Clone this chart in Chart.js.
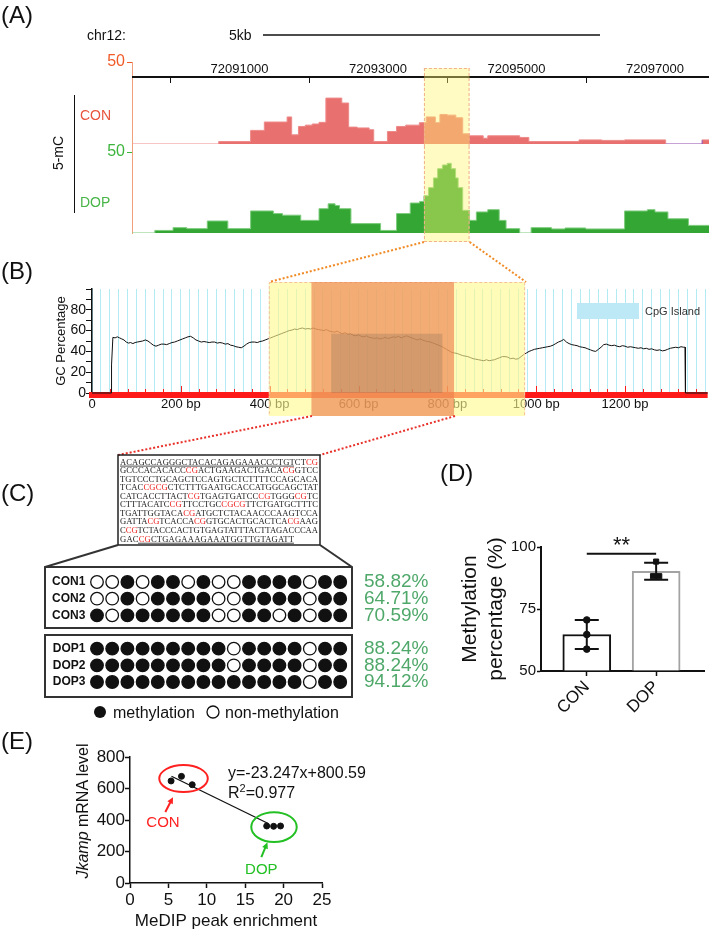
<!DOCTYPE html>
<html>
<head>
<meta charset="utf-8">
<title>Jkamp methylation</title>
<script src="https://cdn.jsdelivr.net/npm/chart.js@4.4.1/dist/chart.umd.min.js"></script>
<style>
  html, body { margin: 0; padding: 0; background: #fff; }
  #fig { position: relative; width: 709px; height: 933px; overflow: hidden; }
  #fig canvas { position: absolute; }
  #overlay { position: absolute; left: 0; top: 0; }
</style>
</head>
<body>
<div id="fig">
  <canvas id="conTrack" width="709" height="156" style="left:0px;top:0px"></canvas>
  <canvas id="dopTrack" width="709" height="106" style="left:0px;top:140px"></canvas>
  <canvas id="gcPlot" width="709" height="136" style="left:0px;top:280px"></canvas>
  <canvas id="bsPlot" width="460" height="144" style="left:0px;top:560px"></canvas>
  <canvas id="barPlot" width="309" height="213" style="left:400px;top:520px"></canvas>
  <canvas id="corrPlot" width="380" height="193" style="left:0px;top:740px"></canvas>
  <svg id="overlay" width="709" height="933" font-family="'Liberation Sans', Arial, sans-serif" fill="#111">
    <text x="1" y="23" font-size="24">(A)</text>
    <text x="1" y="279" font-size="24">(B)</text>
    <text x="1" y="501" font-size="24">(C)</text>
    <text x="440" y="481" font-size="24">(D)</text>
    <text x="1" y="749" font-size="24">(E)</text>

    <text x="87" y="40" font-size="14">chr12:</text>
    <text x="229" y="40" font-size="14">5kb</text>
    <line x1="263" y1="35" x2="600" y2="35" stroke="#111" stroke-width="1.6"/>
    <line x1="74.5" y1="95" x2="74.5" y2="213" stroke="#111" stroke-width="1"/>
    <line x1="132.5" y1="143" x2="132.5" y2="153" stroke="#f2a07c" stroke-width="1"/>
    <text transform="translate(63,153) rotate(-90)" text-anchor="middle" font-size="14">5-mC</text>
    <text x="80" y="120" font-size="14" fill="#e8553d">CON</text>
    <text x="80" y="207" font-size="14" fill="#47b547">DOP</text>

    <g stroke-width="2" stroke-dasharray="2,2" fill="none">
      <path d="M424 242 L269 282 M469.6 242 L526 282" stroke="#f08a24"/>
      <path d="M312 416 L118 455 M455 416 L320 455" stroke="#e8302a"/>
    </g>

    <rect x="577" y="303" width="62" height="16" fill="#bde9f7"/>
    <text x="645" y="315" font-size="11" fill="#333">CpG Island</text>

    <rect x="118" y="455" width="202" height="90" fill="none" stroke="#222" stroke-width="1.5"/>
    <g id="seq" font-family="'Liberation Serif', 'Times New Roman', serif" font-size="8.6"></g>
    <path d="M118 545 L45 567 L45 628 L352 628 L352 567 L320 545 M45 567 L352 567" fill="none" stroke="#333" stroke-width="2"/>
    <rect x="45" y="635" width="307" height="62" fill="none" stroke="#333" stroke-width="2"/>

    <circle cx="100" cy="712" r="6" fill="#111"/>
    <text x="113" y="717.5" font-size="16">methylation</text>
    <circle cx="213" cy="712" r="6" fill="#fff" stroke="#111" stroke-width="1.3"/>
    <text x="225" y="717.5" font-size="16">non-methylation</text>

    <text transform="translate(88,811) rotate(-90)" text-anchor="middle" font-size="16"><tspan font-style="italic">Jkamp</tspan> mRNA level</text>
    <text x="228" y="778" font-size="16">y=-23.247x+800.59</text>
    <text x="228" y="798" font-size="16">R<tspan font-size="11" dy="-6">2</tspan><tspan dy="6">=0.977</tspan></text>
  </svg>
</div>
<script>
// ---------- (A) MeDIP 5-mC tracks, chr12 ----------
const trackRange = [72089447, 72097780];
const conStart = [72089447, 72090699, 72091160, 72091358, 72091687, 72091753, 72091851, 72091950, 72092050, 72092148, 72092247, 72092477, 72092576, 72092700, 72092872, 72092938, 72093136, 72093268, 72093400, 72093597, 72093696, 72093828, 72093894, 72094000, 72094124, 72094223, 72094322, 72094519, 72094585, 72095046, 72095178, 72095903, 72096232, 72096561, 72097154, 72097681];
const conSignal = [0, 1.5, 8.3, 13.4, 16.5, 5.6, 10.7, 11.5, 12.2, 13.2, 28, 25, 10.3, 9.8, 8.7, 1.5, 7.6, 10.7, 11.5, 13, 16.5, 13, 18, 17.6, 16, 6.2, 5, 3.5, 5, 4, 1.5, 2.5, 2.2, 2.5, 0, 2.5];
const dopStart = [72089447, 72089777, 72090040, 72090238, 72090534, 72090831, 72091160, 72091489, 72091620, 72091884, 72092148, 72092280, 72092380, 72092444, 72092609, 72093037, 72093268, 72093465, 72093600, 72093663, 72093730, 72093800, 72093861, 72093930, 72094000, 72094058, 72094120, 72094157, 72094223, 72094322, 72094420, 72094585, 72094750, 72094849, 72095046, 72095211, 72095507, 72095700, 72096000, 72096561, 72096890, 72097000, 72097187, 72097483];
const dopSignal = [0, 1.6, 3.3, 2.7, 7.4, 2.7, 13.6, 12, 11, 7.8, 15, 18, 17, 15, 5.8, 1.6, 12, 18.5, 19.5, 23, 28, 34, 39.7, 42, 43, 39.7, 34, 28, 14, 7.8, 13, 14.4, 7.8, 2.7, 0, 3.3, 2.5, 3.1, 2.5, 13.6, 14.4, 13, 8.8, 4.7];
const rulerTicks = [72090000, 72092000, 72094000, 72096000];
const rulerLabels = [72091000, 72093000, 72095000, 72097000];
const peakRegion = [72093663, 72094322];

// ---------- (B) GC percentage along the amplicon ----------
const gcProfile = [[0,0],[43,0],[44,27],[47,53.5],[52,53],[57,54],[62,53],[67,52],[72,51],[77,49],[82,48],[87,48.5],[92,47.5],[97,48.5],[102,49],[108,49.5],[114,50],[120,51],[126,50],[132,48],[138,46],[144,45],[150,46],[156,47],[162,47],[168,46.5],[174,47.5],[180,48.5],[186,49],[192,50],[198,51],[204,52],[210,53],[216,54],[222,54.5],[228,53],[234,51],[240,50],[246,49],[252,49.5],[258,49],[264,48.5],[270,49],[276,49],[282,48],[288,48.5],[294,48],[300,47],[306,47.5],[312,46],[318,45.5],[324,44.5],[330,44],[336,43.5],[342,45],[348,47],[354,48.5],[360,49],[366,49],[372,48.5],[378,49.5],[384,50],[390,51],[396,52],[402,53],[408,54],[414,55],[420,56],[426,57],[432,58],[438,59],[444,60],[450,60.5],[456,61.5],[462,61],[468,62],[474,62.5],[480,61.5],[486,62],[492,61.5],[498,62.5],[504,61.5],[510,61],[516,60.5],[522,60],[528,61],[534,59.5],[540,59],[546,58.5],[552,59.5],[558,58],[564,57],[570,58],[576,56.5],[582,57],[588,55.5],[594,55],[600,56],[606,54.5],[612,54],[618,55],[624,53.5],[630,53],[636,52.5],[642,53],[648,52],[654,52.5],[660,53.5],[666,52.5],[672,53],[678,54],[684,53.5],[690,54.5],[696,53],[702,54],[708,55],[714,54],[720,53],[726,52],[732,51],[738,52],[744,51],[750,50],[756,49.5],[762,49],[768,48],[774,47],[780,46],[786,45],[792,43.5],[798,42],[804,40.5],[810,39],[816,38.5],[822,38],[828,37],[834,36],[840,35.5],[846,35],[852,34],[858,33],[864,32.5],[870,32],[876,31.5],[882,31],[888,32],[894,31],[900,31.5],[906,32],[912,33],[918,34],[924,35],[930,35],[936,34.5],[942,33],[948,33.5],[954,32.5],[960,33],[966,35],[972,37],[978,38.5],[984,40],[990,41],[996,42],[1002,42.5],[1008,43],[1014,43.5],[1020,44],[1026,44.5],[1032,45],[1038,46],[1044,47.5],[1050,49],[1056,50],[1062,51.5],[1068,49],[1074,47.5],[1080,46.5],[1086,46],[1092,45.5],[1098,44.5],[1104,44],[1110,43.5],[1116,42.5],[1122,41.5],[1128,40.5],[1134,40],[1140,42],[1146,44],[1152,46.5],[1158,47],[1164,46],[1170,45.5],[1176,46],[1182,45],[1188,44.5],[1194,45.5],[1200,45],[1206,44],[1212,44.5],[1218,44],[1224,43.5],[1230,43],[1236,43.5],[1242,42.5],[1248,43],[1254,42],[1260,42.5],[1266,41.5],[1272,41],[1278,41.5],[1284,40.5],[1290,41],[1296,42],[1302,43],[1308,43.5],[1314,44],[1320,43.5],[1326,44.5],[1332,44],[1335,44],[1336,0],[1386,0]];
const gcTicksY = [0, 10, 20, 30, 40, 50, 60, 70, 80, 90, 100];
const zoomRegion = [398, 975];
const bspRegion = [494, 815];
const bspCore = [539, 789];

// ---------- (C) bisulfite sequencing ----------
const seqLines = [
  'ACAGCCAGGGCTACACAGAGAAACCCTGTCTCG',
  'GCCCACACACCCGACTGAAGACTGACACGGTCC',
  'TGTCCCTGCAGCTCCAGTGCTCTTTTCCAGCACA',
  'TCACCGCGCTCTTTGAATGCACCATGGCAGCTAT',
  'CATCACCTTACTCGTGAGTGATCCCGTGGGCGTC',
  'CTTTACATCCGTTCCTGCCGCGTTCTGATGCTTTC',
  'TGATTGGTACACGATGCTCTACAACCCAAGTCCA',
  'GATTACGTCACCACGGTGCACTGCACTCACGAAG',
  'CCGTCTACCCACTGTGAGTATTTACTTAGACCCAA',
  'GACCGCTGAGAAAGAAATGGTTGTAGATT'
];
const rowNames = ['CON1', 'CON2', 'CON3', 'DOP1', 'DOP2', 'DOP3'];
const rowSlots = [0, 1, 2, 4, 5, 6];
const methylation = [
  [0,0,1,0,1,1,0,1,0,0,1,1,1,1,0,1,1],
  [0,0,1,0,1,1,1,1,0,0,1,1,1,1,0,1,1],
  [1,0,1,1,1,1,1,1,0,0,1,1,0,1,0,1,1],
  [1,1,1,1,1,1,1,1,1,0,1,1,1,1,0,1,1],
  [1,1,1,1,1,1,1,1,1,0,1,1,1,1,0,1,1],
  [1,1,1,1,1,1,1,1,1,1,1,1,1,1,0,1,1]
];
const rowPct = ['58.82%', '64.71%', '70.59%', '88.24%', '88.24%', '94.12%'];

// ---------- (D) methylation percentage ----------
const groups = ['CON', 'DOP'];
const methMean = [64.71, 90.20];
const methSd = [5.88, 3.40];
const conMeth = [58.82, 64.71, 70.59];
const dopMeth = [88.24, 88.24, 94.12];
const methTicks = [50, 75, 100];

// ---------- (E) correlation ----------
const conMedip = [5.35, 6.7, 8.1];
const conMrna = [648, 677, 624];
const dopMedip = [17.8, 18.7, 19.6];
const dopMrna = [362, 360, 362];
const fitX = [5.4, 18.0];
const fitY = [678, 378];

// ---------- shared ----------
Chart.defaults.font.family = "'Liberation Sans', Arial, sans-serif";
Chart.defaults.color = '#111';
const base = {
  responsive: false, devicePixelRatio: 1, animation: false, events: [],
  plugins: { legend: { display: false }, tooltip: { enabled: false } }
};
const cv = id => document.getElementById(id);

// (A) track charts
function stepData(starts, vals) {
  const pts = starts.map((x, i) => ({ x, y: vals[i] }));
  pts.push({ x: trackRange[1], y: vals[vals.length - 1] });
  return pts;
}

function highlightPlugin(top, bottom, edge) {
  return {
    id: 'peakHighlight',
    afterDatasetsDraw(chart) {
      const { ctx, scales: { x } } = chart;
      const x0 = x.getPixelForValue(peakRegion[0]), x1 = x.getPixelForValue(peakRegion[1]);
      ctx.save();
      ctx.fillStyle = 'rgba(255,245,110,0.42)';
      ctx.fillRect(x0, top, x1 - x0, bottom - top);
      ctx.strokeStyle = '#f3b08c';
      ctx.lineWidth = 1;
      ctx.setLineDash([3, 2]);
      ctx.beginPath();
      ctx.moveTo(x0 + 0.5, top); ctx.lineTo(x0 + 0.5, bottom);
      ctx.moveTo(x1 - 0.5, top); ctx.lineTo(x1 - 0.5, bottom);
      if (edge === 'top') { ctx.moveTo(x0, top + 0.5); ctx.lineTo(x1, top + 0.5); }
      if (edge === 'bottom') { ctx.moveTo(x0, bottom - 0.5); ctx.lineTo(x1, bottom - 0.5); }
      ctx.stroke();
      ctx.restore();
    }
  };
}

const rulerPlugin = {
  id: 'ruler',
  beforeDatasetsDraw(chart) {
    const { ctx, chartArea, scales: { x } } = chart;
    const y = 77;
    ctx.save();
    ctx.strokeStyle = '#111';
    ctx.lineWidth = 2;
    ctx.beginPath(); ctx.moveTo(chartArea.left, y); ctx.lineTo(chartArea.right, y); ctx.stroke();
    ctx.lineWidth = 1;
    rulerTicks.forEach(v => {
      const px = Math.round(x.getPixelForValue(v)) + 0.5;
      ctx.beginPath(); ctx.moveTo(px, y); ctx.lineTo(px, y + 6); ctx.stroke();
    });
    ctx.fillStyle = '#111';
    ctx.font = "13px 'Liberation Sans', Arial, sans-serif";
    ctx.textAlign = 'center';
    rulerLabels.forEach(v => ctx.fillText(String(v), x.getPixelForValue(v), y - 4));
    ctx.restore();
  }
};

function trackChart(id, starts, vals, o) {
  return new Chart(cv(id), {
    type: 'line',
    data: { datasets: [{
      data: stepData(starts, vals), stepped: true, fill: 'origin',
      backgroundColor: o.fill, borderColor: o.line, borderWidth: 1, pointRadius: 0,
      segment: o.segment || {}
    }] },
    options: {
      ...base,
      layout: { padding: o.padding },
      scales: {
        x: { type: 'linear', display: false, min: trackRange[0], max: trackRange[1] },
        y: {
          min: 0, max: 50,
          afterFit: s => { s.width = 132; },
          afterBuildTicks: s => { s.ticks = [{ value: 50 }]; },
          ticks: { color: o.tick, font: { size: 16 }, padding: 2 },
          grid: { drawOnChartArea: false, color: o.tick, tickLength: 5 },
          border: { color: '#f2a07c', width: 1 }
        }
      }
    },
    plugins: o.plugins
  });
}

trackChart('conTrack', conStart, conSignal, {
  fill: '#e8706e', line: '#ee8a8a', tick: '#f05a28',
  padding: { top: 62, bottom: 12, left: 0, right: 0 },
  segment: { borderColor: c => (c.p0.parsed.y === 0 && c.p0.parsed.x > 72096000) ? '#8e44ad' : undefined },
  plugins: [rulerPlugin, highlightPlugin(68, 146, 'top')]
});
trackChart('dopTrack', dopStart, dopSignal, {
  fill: '#34a634', line: '#7dcc7d', tick: '#3cb43c',
  padding: { top: 12, bottom: 13, left: 0, right: 0 },
  plugins: [highlightPlugin(6, 102, 'bottom')]
});

// (B) GC percentage
const gcBandPlugin = {
  id: 'gcBand',
  beforeDatasetsDraw(chart) {
    const { ctx, chartArea: a, scales: { x, y } } = chart;
    const y0 = y.getPixelForValue(0);
    ctx.save();
    ctx.fillStyle = '#ff1a1a';
    ctx.fillRect(a.left - 3, y0 - 1, a.right - a.left + 3, 6);
    ctx.strokeStyle = '#ff1a1a';
    ctx.lineWidth = 1;
    for (let v = 40; v <= 1380; v += 40) {
      const px = Math.round(x.getPixelForValue(v)) + 0.5;
      ctx.beginPath(); ctx.moveTo(px, y0 - 1); ctx.lineTo(px, y0 - (v % 200 === 0 ? 7 : 4)); ctx.stroke();
    }
    ctx.restore();
  }
};
const gcRegionPlugin = {
  id: 'gcRegion',
  afterDatasetsDraw(chart) {
    const { ctx, scales: { x, y } } = chart;
    const px = v => x.getPixelForValue(v);
    const top = 2, bottom = 136;
    ctx.save();
    ctx.fillStyle = 'rgba(255,248,140,0.62)';
    ctx.fillRect(px(zoomRegion[0]), top, px(zoomRegion[1]) - px(zoomRegion[0]), bottom - top);
    ctx.strokeStyle = '#f6c0a0';
    ctx.setLineDash([3, 2]);
    ctx.lineWidth = 1;
    ctx.strokeRect(px(zoomRegion[0]) + 0.5, top + 0.5, px(zoomRegion[1]) - px(zoomRegion[0]) - 1, bottom - top + 4);
    ctx.setLineDash([]);
    ctx.fillStyle = 'rgba(235,125,75,0.62)';
    ctx.fillRect(px(bspRegion[0]), top, px(bspRegion[1]) - px(bspRegion[0]), bottom - top);
    const yTop = y.getPixelForValue(57), yBase = y.getPixelForValue(0);
    ctx.fillStyle = 'rgba(110,90,80,0.22)';
    ctx.fillRect(px(bspCore[0]), yTop, px(bspCore[1]) - px(bspCore[0]), yBase - yTop);
    ctx.restore();
  }
};

new Chart(cv('gcPlot'), {
  type: 'line',
  data: { datasets: [{
    data: gcProfile.map(([x, y]) => ({ x, y })),
    borderColor: '#111', borderWidth: 1, pointRadius: 0, tension: 0, clip: false
  }] },
  options: {
    ...base,
    layout: { padding: { top: 9, right: 0, left: 0, bottom: 0 } },
    scales: {
      x: {
        type: 'linear', min: 0, max: 1386,
        afterFit: s => { s.height = 23; },
        afterBuildTicks: s => { const t = []; for (let v = 0; v <= 1380; v += 20) t.push({ value: v }); s.ticks = t; },
        ticks: { autoSkip: false, maxRotation: 0, padding: 4, font: { size: 13 }, color: '#111',
                 callback: v => v === 0 ? '0' : (v % 200 === 0 ? v + ' bp' : '') },
        grid: { color: '#b2ebf4', lineWidth: 1, drawTicks: false },
        border: { display: false }
      },
      y: {
        min: 0, max: 100,
        afterFit: s => { s.width = 92; },
        afterBuildTicks: s => { s.ticks = gcTicksY.map(v => ({ value: v })); },
        ticks: { autoSkip: false, padding: 0, font: { size: 14 }, color: '#111',
                 callback: v => (v % 20 === 0 && v < 100) ? String(v) : '' },
        grid: { drawOnChartArea: false, tickLength: 6, color: '#111' },
        border: { color: '#111', width: 1.5 },
        title: { display: true, text: 'GC Percentage', font: { size: 13 }, color: '#111', padding: { top: 54, bottom: 0 } }
      }
    }
  },
  plugins: [gcBandPlugin, gcRegionPlugin]
});

// (C) sequence text
const NS = 'http://www.w3.org/2000/svg';
const seqG = cv('seq');
const seqLeft = 120, seqWidth = 198, seqTop = 464.5, seqLead = 8.57;
seqLines.forEach((line, i) => {
  const t = document.createElementNS(NS, 'text');
  t.setAttribute('x', seqLeft);
  t.setAttribute('y', (seqTop + i * seqLead).toFixed(2));
  t.setAttribute('textLength', i === seqLines.length - 1 ? (line.length * seqWidth / 33).toFixed(1) : seqWidth);
  t.setAttribute('lengthAdjust', 'spacing');
  const red = new Array(line.length).fill(false);
  for (let k = 0; k < line.length - 1; k++) if (line[k] === 'C' && line[k + 1] === 'G') { red[k] = true; red[k + 1] = true; }
  let k = 0;
  while (k < line.length) {
    let j = k;
    while (j < line.length && red[j] === red[k]) j++;
    const s = document.createElementNS(NS, 'tspan');
    s.setAttribute('fill', red[k] ? '#ee2222' : '#222');
    s.textContent = line.slice(k, j);
    t.appendChild(s);
    k = j;
  }
  seqG.appendChild(t);
});
[[0, 0, 29], [9, 3, 29]].forEach(([li, a, b]) => {
  const l = document.createElementNS(NS, 'line');
  const w = seqWidth / 33, yb = seqTop + li * seqLead + 1.6;
  l.setAttribute('x1', seqLeft + a * w); l.setAttribute('x2', seqLeft + b * w);
  l.setAttribute('y1', yb); l.setAttribute('y2', yb);
  l.setAttribute('stroke', '#222'); l.setAttribute('stroke-width', '0.8');
  seqG.appendChild(l);
});

// (C) lollipop grid
const bsPoints = [], bsFill = [];
methylation.forEach((row, r) => row.forEach((m, i) => {
  bsPoints.push({ x: i + 1, y: rowSlots[r] });
  bsFill.push(m ? '#111' : '#fff');
}));
const rowAxis = (side, labels, extra) => ({
  type: 'linear', position: side, reverse: true, min: -0.6, max: 6.6,
  afterBuildTicks: s => { s.ticks = rowSlots.map(v => ({ value: v })); },
  grid: { display: false, drawTicks: false },
  border: { display: false },
  ...extra,
  ticks: { autoSkip: false, callback: v => labels[rowSlots.indexOf(v)], ...extra.ticks }
});
new Chart(cv('bsPlot'), {
  type: 'scatter',
  data: { datasets: [{ data: bsPoints, pointRadius: 6.3, pointBorderWidth: 1.3, pointBorderColor: '#111', pointBackgroundColor: bsFill }] },
  options: {
    ...base,
    layout: { padding: { top: 12, bottom: 12, left: 0, right: 0 } },
    scales: {
      x: { type: 'linear', display: false, min: 0.5, max: 17.5 },
      y: rowAxis('left', rowNames, { afterFit: s => { s.width = 89.4; }, ticks: { font: { size: 12, weight: 'bold' }, color: '#111', padding: 4 } }),
      y2: rowAxis('right', rowPct, {
        afterFit: s => { s.width = 460 - 347.8; },
        grid: { display: false, drawTicks: true, tickLength: 16.2 },
        ticks: { font: { size: 19 }, color: '#4fa86a', padding: 0 }
      })
    }
  }
});

// (D) bar chart with points
const dopJitter = [-0.045, 0.045, 0];
const errorBarPlugin = {
  id: 'errorBars',
  afterDatasetsDraw(chart) {
    const { ctx, scales: { x, y } } = chart;
    ctx.save();
    ctx.strokeStyle = '#111';
    ctx.lineWidth = 2;
    methMean.forEach((m, i) => {
      const cx = x.getPixelForValue(i), lo = y.getPixelForValue(m - methSd[i]), hi = y.getPixelForValue(m + methSd[i]);
      ctx.beginPath();
      ctx.moveTo(cx, lo); ctx.lineTo(cx, hi);
      ctx.moveTo(cx - 12, lo); ctx.lineTo(cx + 12, lo);
      ctx.moveTo(cx - 12, hi); ctx.lineTo(cx + 12, hi);
      ctx.stroke();
    });
    const x0 = x.getPixelForValue(0), x1 = x.getPixelForValue(1), ys = y.getPixelForValue(97.3);
    ctx.beginPath(); ctx.moveTo(x0, ys); ctx.lineTo(x1, ys); ctx.stroke();
    ctx.fillStyle = '#111';
    ctx.font = "22px 'Liberation Sans', Arial, sans-serif";
    ctx.textAlign = 'center';
    ctx.textBaseline = 'middle';
    ctx.fillText('**', (x0 + x1) / 2, y.getPixelForValue(100.6));
    ctx.restore();
  }
};
new Chart(cv('barPlot'), {
  type: 'bar',
  data: { datasets: [
    { type: 'bar', data: groups.map((g, i) => ({ x: i, y: methMean[i] })), base: 50, barThickness: 48,
      backgroundColor: '#fff', borderColor: ['#111', '#a3a3a3'], borderWidth: 2, borderSkipped: 'start', order: 2 },
    { type: 'scatter', data: conMeth.map(v => ({ x: 0, y: v })), pointStyle: 'circle', pointRadius: 3.3,
      backgroundColor: '#111', borderColor: '#111', order: 0 },
    { type: 'scatter', data: dopMeth.map((v, i) => ({ x: 1 + dopJitter[i], y: v })), pointStyle: 'rect', pointRadius: 3.6,
      backgroundColor: '#111', borderColor: '#111', order: 0 }
  ] },
  options: {
    ...base,
    layout: { padding: { top: 27, right: 0, left: 0, bottom: 0 } },
    scales: {
      x: {
        type: 'linear', min: -0.66, max: 1.69, offset: false,
        afterFit: s => { s.height = 62; },
        afterBuildTicks: s => { s.ticks = groups.map((g, i) => ({ value: i })); },
        ticks: { autoSkip: false, minRotation: 45, maxRotation: 45, padding: 1, font: { size: 17 }, color: '#111', callback: v => groups[v] },
        grid: { drawOnChartArea: false, offset: false, tickLength: 5, color: '#111', tickWidth: 1.5 },
        border: { color: '#111', width: 2 }
      },
      y: {
        min: 50, max: 100,
        afterFit: s => { s.width = 141; },
        afterBuildTicks: s => { s.ticks = methTicks.map(v => ({ value: v })); },
        ticks: { padding: 1, font: { size: 15 }, color: '#111' },
        grid: { drawOnChartArea: false, tickLength: 4, color: '#111', tickWidth: 1.5 },
        border: { color: '#111', width: 2 },
        title: { display: true, text: ['Methylation', 'percentage (%)'], font: { size: 21 }, color: '#111', padding: { top: 58, bottom: 0 } }
      }
    }
  },
  plugins: [errorBarPlugin]
});

// (E) correlation
const corrNotes = {
  id: 'corrNotes',
  afterDatasetsDraw(chart) {
    const { ctx, scales: { x, y } } = chart;
    const X = v => x.getPixelForValue(v), Y = v => y.getPixelForValue(v);
    ctx.save();
    const ellipse = (cx, cy, rx, ry, color) => {
      ctx.beginPath();
      ctx.ellipse(X(cx), Y(cy), X(cx + rx) - X(cx), Y(cy) - Y(cy + ry), 0, 0, Math.PI * 2);
      ctx.strokeStyle = color; ctx.lineWidth = 2; ctx.stroke();
    };
    const arrow = (x0, y0, x1, y1, color) => {
      const ax = X(x0), ay = Y(y0), bx = X(x1), by = Y(y1);
      const ang = Math.atan2(by - ay, bx - ax), h = 7;
      ctx.strokeStyle = color; ctx.fillStyle = color; ctx.lineWidth = 2;
      ctx.beginPath(); ctx.moveTo(ax, ay); ctx.lineTo(bx - h * 0.7 * Math.cos(ang), by - h * 0.7 * Math.sin(ang)); ctx.stroke();
      ctx.beginPath();
      ctx.moveTo(bx, by);
      ctx.lineTo(bx - h * Math.cos(ang - 0.45), by - h * Math.sin(ang - 0.45));
      ctx.lineTo(bx - h * Math.cos(ang + 0.45), by - h * Math.sin(ang + 0.45));
      ctx.closePath(); ctx.fill();
    };
    ellipse(6.97, 663, 3.16, 86, '#ff2020');
    ellipse(18.75, 355, 2.96, 95, '#22c022');
    arrow(4.6, 451, 5.6, 545, '#ff2020');
    arrow(17.1, 165, 17.9, 258, '#22c022');
    ctx.font = "15px 'Liberation Sans', Arial, sans-serif";
    ctx.textAlign = 'center';
    ctx.textBaseline = 'middle';
    ctx.fillStyle = '#ff2020'; ctx.fillText('CON', X(4.3), Y(381));
    ctx.fillStyle = '#22c022'; ctx.fillText('DOP', X(17.1), Y(83));
    ctx.restore();
  }
};
new Chart(cv('corrPlot'), {
  type: 'scatter',
  data: { datasets: [
    { data: conMedip.map((v, i) => ({ x: v, y: conMrna[i] })), pointRadius: 3, backgroundColor: '#111', borderColor: '#111' },
    { data: dopMedip.map((v, i) => ({ x: v, y: dopMrna[i] })), pointRadius: 3, backgroundColor: '#111', borderColor: '#111' },
    { type: 'line', data: fitX.map((v, i) => ({ x: v, y: fitY[i] })), borderColor: '#111', borderWidth: 1.3, pointRadius: 0 }
  ] },
  options: {
    ...base,
    layout: { padding: { top: 17, right: 58, left: 0, bottom: 0 } },
    scales: {
      x: {
        min: 0, max: 25,
        afterFit: s => { s.height = 50; },
        ticks: { stepSize: 5, font: { size: 17 }, color: '#111', padding: 2 },
        grid: { drawOnChartArea: false, tickLength: 5, color: '#111', tickWidth: 1.5 },
        border: { color: '#111', width: 1.5 },
        title: { display: true, text: 'MeDIP peak enrichment', font: { size: 17 }, color: '#111', padding: { top: 0, bottom: 1 } }
      },
      y: {
        min: 0, max: 800,
        afterFit: s => { s.width = 130; },
        ticks: { stepSize: 200, font: { size: 17 }, color: '#111', padding: 0 },
        grid: { drawOnChartArea: false, tickLength: 5, color: '#111', tickWidth: 1.5 },
        border: { color: '#111', width: 1.5 }
      }
    }
  },
  plugins: [corrNotes]
});
</script>
</body>
</html>
